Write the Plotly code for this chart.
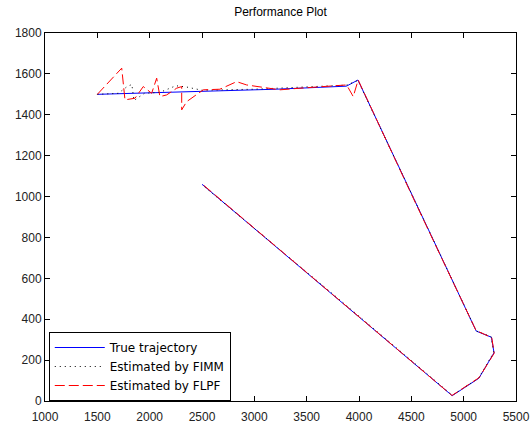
import plotly.graph_objects as go

# True trajectory
true_x = [1500, 2500, 3200, 3880, 3990, 5120, 5265, 5290, 5145, 4890, 2500]
true_y = [1500, 1515, 1525, 1540, 1570, 342, 312, 236, 111, 26, 1060]

# Estimated by FIMM
fimm_x = [1500, 1700, 1790, 1830, 1850, 1950, 2100, 2250, 2350, 2500, 3000, 3500, 3880, 3990,
          4500, 5120, 5262, 5288, 5143, 4892, 3700, 2500]
fimm_y = [1500, 1505, 1540, 1548, 1470, 1505, 1510, 1542, 1536, 1520, 1525, 1535, 1545, 1568,
          1016, 343, 314, 238, 112, 28, 545, 1058]

# Estimated by FLPF
flpf_x = [1500, 1733, 1764, 1860, 1939, 2019, 2067, 2098, 2162, 2258, 2306, 2306, 2353, 2512,
          2671, 2831, 2926, 3117, 3244, 3436, 3627, 3882, 3945, 3992,
          4500, 5118, 5268, 5292, 5147, 4888, 4200, 3400, 2500]
flpf_y = [1500, 1628, 1473, 1481, 1538, 1505, 1579, 1489, 1497, 1530, 1538, 1424, 1464, 1522,
          1525, 1562, 1546, 1530, 1522, 1530, 1538, 1546, 1489, 1570,
          1012, 345, 310, 234, 114, 27, 325, 673, 1062]

fig = go.Figure()
fig.add_trace(go.Scatter(x=true_x, y=true_y, mode="lines", name="True trajectory",
                         line=dict(color="#0000ff", width=1)))
fig.add_trace(go.Scatter(x=fimm_x, y=fimm_y, mode="lines", name="Estimated by FIMM",
                         line=dict(color="#000000", width=1, dash="1px,4px")))
fig.add_trace(go.Scatter(x=flpf_x, y=flpf_y, mode="lines", name="Estimated by FLPF",
                         line=dict(color="#ff0000", width=1, dash="10px,4px")))

axis_common = dict(showline=True, linecolor="#000000", linewidth=1, mirror="ticks",
                   ticks="inside", ticklen=5, tickcolor="#000000", showgrid=False,
                   zeroline=False, automargin=False,
                   tickfont=dict(family="Arial, Liberation Sans", size=12, color="#222222"))

fig.update_layout(
    width=531, height=426,
    margin=dict(l=45, r=15, t=33, b=25),
    paper_bgcolor="#ffffff", plot_bgcolor="#ffffff",
    title=dict(text="Performance Plot", x=0.5, xanchor="center", xref="paper", y=0.972, yanchor="middle",
               font=dict(family="Arial, Liberation Sans", size=12, color="#000000")),
    xaxis=dict(range=[1000, 5500], dtick=500, tick0=1000, ticklabelstandoff=5, **axis_common),
    yaxis=dict(range=[0, 1800], dtick=200, tick0=0, **axis_common),
    legend=dict(x=0.008, y=0.0, xanchor="left", yanchor="bottom",
                bordercolor="#000000", borderwidth=1, bgcolor="#ffffff",
                font=dict(family="DejaVu Sans", size=12, color="#000000"),
                itemwidth=50, tracegroupgap=0),
    showlegend=True,
)

fig.write_html("out.html")
